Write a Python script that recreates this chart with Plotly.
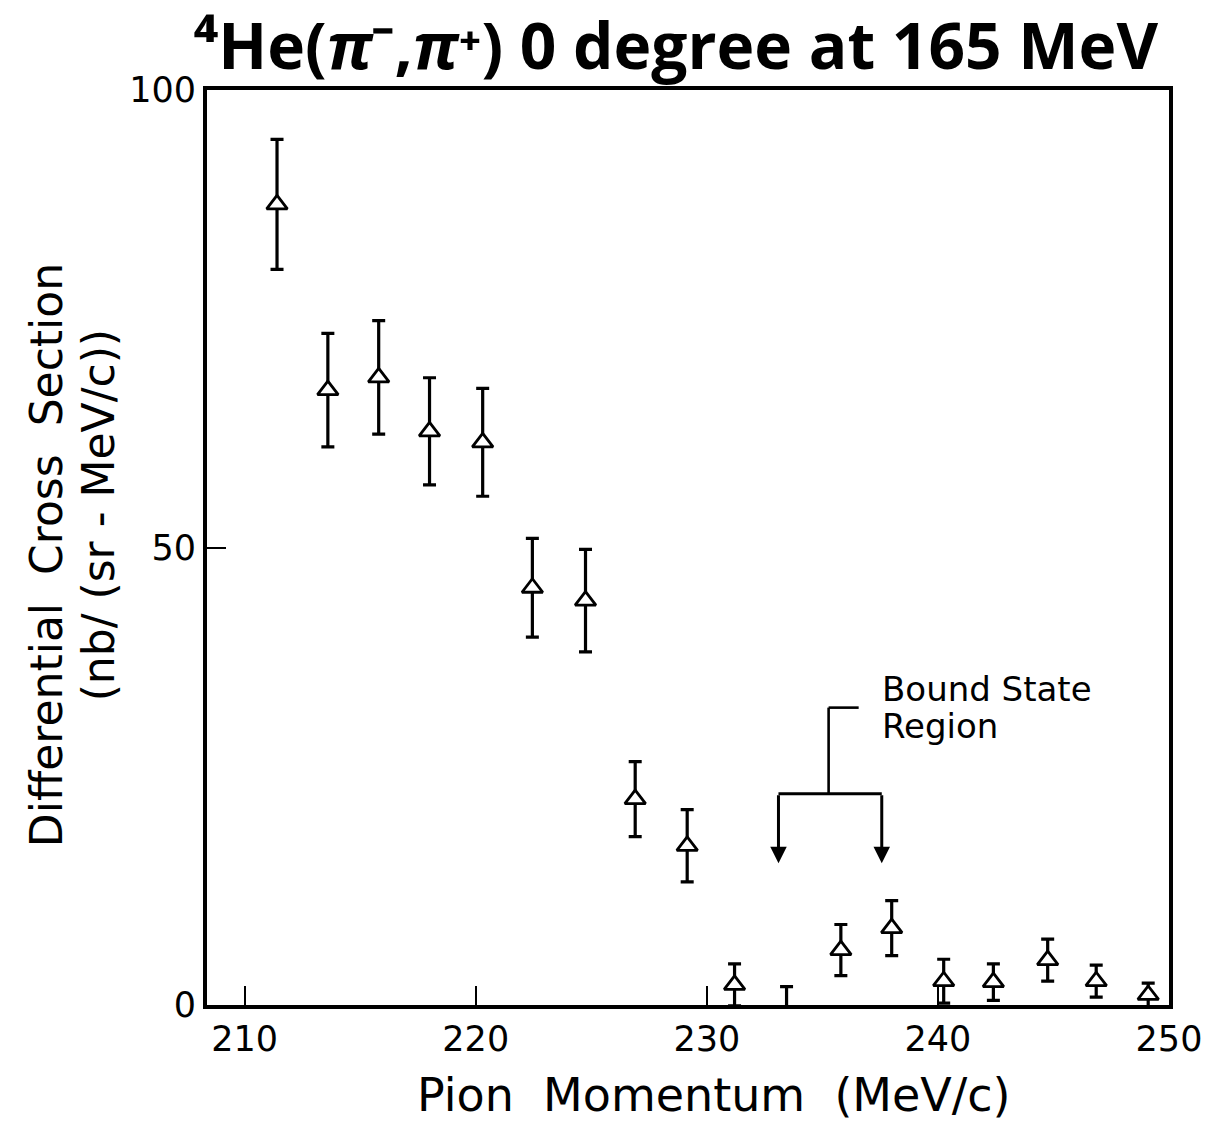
import plotly.graph_objects as go

# Pion momentum (MeV/c), differential cross section nb/(sr-MeV/c) and its error
momentum = [211.4, 213.6, 215.8, 218.0, 220.3, 222.45, 224.75, 226.9, 229.15,
            231.2, 233.45, 235.8, 238.0, 240.25, 242.4, 244.75, 246.85, 249.1]
xsec = [87.5, 67.2, 68.6, 62.7, 61.5, 45.6, 44.2, 22.5, 17.4,
        2.2, -1.0, 6.0, 8.4, 2.6, 2.5, 4.9, 2.6, 1.1]
xsec_err = [7.1, 6.2, 6.2, 5.85, 5.9, 5.4, 5.6, 4.1, 3.95,
            2.3, 3.0, 2.8, 3.0, 2.4, 2.0, 2.3, 1.75, 1.3]

x_ticks = [210, 220, 230, 240, 250]
y_ticks = [0, 50, 100]

# bound-state bracket: arrow positions, bar height, stem and label
bound_arrows_x = [233.1, 237.57]
bound_bar_y = 23.1
bound_tip_y = 15.5
bound_stem_x = 235.27
bound_stem_top = 32.5
bound_hook_x = 236.57
bound_label_x = 237.5
bound_label_lines = ["Bound State", "Region"]
bound_label_y = [34.5, 30.5]

FONT = "DejaVu Sans"

fig = go.Figure()
fig.add_trace(go.Scatter(
    x=momentum, y=xsec,
    mode="markers",
    marker=dict(symbol="triangle-up", size=18, color="white",
                line=dict(color="black", width=2.8)),
    error_y=dict(type="data", array=xsec_err, visible=True,
                 color="black", thickness=3.2, width=6.5),
    showlegend=False,
))

shapes = [
    dict(type="line", xref="x", yref="y", x0=bound_arrows_x[0], x1=bound_arrows_x[1],
         y0=bound_bar_y, y1=bound_bar_y, line=dict(color="black", width=3)),
    dict(type="line", xref="x", yref="y", x0=bound_stem_x, x1=bound_stem_x,
         y0=bound_bar_y, y1=bound_stem_top, line=dict(color="black", width=2.6)),
    dict(type="line", xref="x", yref="y", x0=bound_stem_x, x1=bound_hook_x,
         y0=bound_stem_top, y1=bound_stem_top, line=dict(color="black", width=2.6)),
]

annotations = []
for ax_x in bound_arrows_x:
    annotations.append(dict(
        x=ax_x, y=bound_tip_y, xref="x", yref="y",
        ax=ax_x, ay=bound_bar_y, axref="x", ayref="y",
        showarrow=True, arrowhead=2, arrowsize=1.1, arrowwidth=3,
        arrowcolor="black", text="",
    ))
for line_text, ly in zip(bound_label_lines, bound_label_y):
    annotations.append(dict(
        x=bound_label_x, y=ly, xref="x", yref="y",
        xanchor="left", yanchor="middle", showarrow=False,
        text=line_text, font=dict(family=FONT, size=34, color="black"),
    ))

# rotated two-line y-axis title
annotations.append(dict(
    x=-0.167, y=0.492, xref="paper", yref="paper", textangle=-90,
    xanchor="center", yanchor="middle", showarrow=False,
    text="Differential  Cross  Section",
    font=dict(family=FONT, size=44, color="black"),
))
annotations.append(dict(
    x=-0.113, y=0.5355, xref="paper", yref="paper", textangle=-90,
    xanchor="center", yanchor="middle", showarrow=False,
    text="(nb/ (sr - MeV/c))",
    font=dict(family=FONT, size=44, color="black"),
))

# x-axis title
annotations.append(dict(
    x=0.527, y=-0.0984, xref="paper", yref="paper",
    xanchor="center", yanchor="middle", showarrow=False,
    text="Pion  Momentum  (MeV/c)",
    font=dict(family=FONT, size=46, color="black"),
))

# figure title
annotations.append(dict(
    x=0.4876, y=1.0, xref="paper", yref="paper",
    xanchor="center", yanchor="bottom", yshift=0, showarrow=False,
    text="⁴He(<i>π</i>⁻,<i>π</i>⁺) 0 degree at 165 MeV",
    font=dict(family="Open Sans", size=64, color="black", weight="bold"),
))

fig.update_layout(
    width=1214, height=1121,
    margin=dict(l=207, r=43, t=90, b=116),
    paper_bgcolor="white", plot_bgcolor="white",
    shapes=shapes, annotations=annotations,
    xaxis=dict(
        range=[208.37, 250], tickvals=x_ticks, ticktext=[str(v) for v in x_ticks],
        ticks="inside", ticklen=19, tickwidth=2, tickcolor="black",
        showline=True, linecolor="black", linewidth=3.8, mirror=True,
        showgrid=False, zeroline=False,
        tickfont=dict(family=FONT, size=35, color="black"),
    ),
    yaxis=dict(
        range=[0, 100], tickvals=y_ticks, ticktext=[str(v) for v in y_ticks],
        ticks="inside", ticklen=19, tickwidth=2, tickcolor="black",
        showline=True, linecolor="black", linewidth=3.8, mirror=True,
        showgrid=False, zeroline=False,
        tickfont=dict(family=FONT, size=35, color="black"),
    ),
)

fig.write_html("out.html")
